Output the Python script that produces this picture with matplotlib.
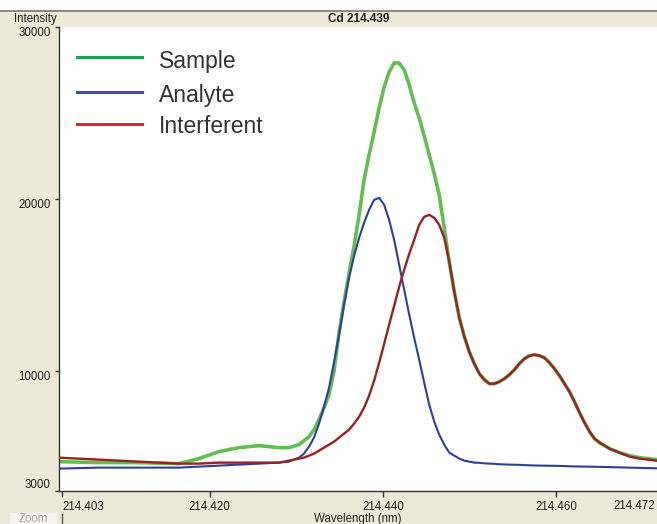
import matplotlib
matplotlib.use("Agg")
import matplotlib.pyplot as plt
from matplotlib.patches import Rectangle
from matplotlib.lines import Line2D

# ---- data ----
wavelength = [214.40254, 214.40717, 214.41179, 214.41642, 214.41873, 214.42104, 214.42335, 214.42567, 214.42798, 214.42913,
              214.43029, 214.43087, 214.43145, 214.43202, 214.43260, 214.43318, 214.43376, 214.43434, 214.43491, 214.43549,
              214.43607, 214.43665, 214.43723, 214.43780, 214.43838, 214.43896, 214.43954, 214.44012, 214.44069, 214.44127,
              214.44185, 214.44243, 214.44301, 214.44358, 214.44416, 214.44474, 214.44532, 214.44590, 214.44647, 214.44705,
              214.44763, 214.44821, 214.44879, 214.44937, 214.44994, 214.45052, 214.45110, 214.45168, 214.45226, 214.45283,
              214.45341, 214.45399, 214.45457, 214.45515, 214.45572, 214.45630, 214.45688, 214.45746, 214.45804, 214.45861,
              214.45919, 214.45977, 214.46035, 214.46093, 214.46150, 214.46208, 214.46266, 214.46324, 214.46382, 214.46439,
              214.46497, 214.46613, 214.46728, 214.46844, 214.46960, 214.47156]

sample = [4709, 4651, 4651, 4593, 4884, 5291, 5523, 5640, 5523, 5523,
          5698, 5930, 6163, 6570, 7151, 7849, 8605, 10000, 12200, 14000,
          15700, 17250, 19070, 21105, 22558, 23895, 25291, 26512, 27384, 27907,
          27907, 27500, 26628, 25582, 24709, 23663, 22558, 21454, 20233, 18314,
          16337, 14593, 13081, 11977, 11105, 10407, 9826, 9477, 9244, 9244,
          9360, 9535, 9767, 10058, 10407, 10698, 10872, 10930, 10872, 10756,
          10465, 10116, 9709, 9244, 8779, 8198, 7558, 6977, 6453, 6047,
          5814, 5465, 5232, 5058, 4942, 4826]

analyte = [4302, 4360, 4360, 4360, 4418, 4477, 4535, 4593, 4651, 4709,
           4942, 5174, 5581, 6105, 6919, 7907, 9012, 10523, 12093, 13837,
           15407, 16686, 17733, 18605, 19361, 19942, 20058, 19651, 18779, 17616,
           16163, 14709, 13256, 11919, 10640, 9302, 8023, 7035, 6279, 5698,
           5232, 5058, 4884, 4767, 4709, 4651, 4640, 4610, 4593, 4580,
           4560, 4545, 4535, 4530, 4520, 4505, 4495, 4485, 4480, 4475,
           4470, 4465, 4460, 4450, 4440, 4430, 4425, 4420, 4415, 4410,
           4405, 4390, 4375, 4360, 4345, 4320]

interferent = [4942, 4826, 4709, 4593, 4593, 4651, 4651, 4651, 4651, 4767,
               4884, 4942, 5058, 5174, 5349, 5523, 5698, 5872, 6105, 6337,
               6570, 6919, 7326, 7849, 8547, 9419, 10465, 11570, 12674, 13779,
               14884, 15872, 16802, 17616, 18488, 18954, 19070, 18895, 18488, 17733,
               16337, 14593, 13081, 11977, 11105, 10407, 9826, 9477, 9244, 9244,
               9360, 9535, 9767, 10058, 10407, 10698, 10872, 10930, 10872, 10756,
               10465, 10116, 9709, 9244, 8779, 8198, 7558, 6977, 6453, 6047,
               5814, 5465, 5232, 5000, 4884, 4767]

x_ticks = [214.403, 214.420, 214.440, 214.460]
x_tick_labels = ["214.403", "214.420", "214.440", "214.460"]
x_last_label = "214.472"
y_ticks = [3000, 10000, 20000, 30000]
y_tick_labels = ["3000", "10000", "20000", "30000"]
legend_labels = ["Sample", "Analyte", "Interferent"]

# ---- figure ----
W, H = 657, 524
BEIGE = "#ECE9D8"
fig = plt.figure(figsize=(W / 100, H / 100), dpi=100, facecolor=BEIGE)
FONT = "Liberation Sans"

fig.patches.append(Rectangle((0, 1 - 10 / H), 1, 10 / H, transform=fig.transFigure,
                             facecolor="white", edgecolor="none", zorder=0))
fig.lines.append(Line2D([0, 1], [1 - 10.5 / H, 1 - 10.5 / H], transform=fig.transFigure,
                        color="#7a7a72", lw=1.2))
fig.patches.append(Rectangle((10 / W, 0), 47 / W, 11 / H, transform=fig.transFigure,
                             facecolor="#F5F4EE", edgecolor="none", zorder=0))
fig.lines.append(Line2D([61.5 / W, 61.5 / W], [0, 10 / H], transform=fig.transFigure,
                        color="#555555", lw=1))
fig.text(33 / W, 5 / H, "Zoom", ha="center", va="center", fontsize=8.3,
         family=FONT, color="#A8A8A8")

ax = fig.add_axes([59 / W, 33 / H, (W - 59) / W, (491 - 27) / H])
ax.set_facecolor("white")
ax.set_xlim(214.4026, 214.4716)
ax.set_ylim(3000, 30000)

ax.plot(wavelength, sample, color="#62BE50", lw=2.6, zorder=2, solid_joinstyle="round")
ax.plot(wavelength, analyte, color="#2E3E9A", lw=1.5, zorder=3, solid_joinstyle="round")
ax.plot(wavelength, interferent, color="#9A2024", lw=1.7, zorder=4, solid_joinstyle="round")

for s in ["top", "right"]:
    ax.spines[s].set_visible(False)
for s in ["left", "bottom"]:
    ax.spines[s].set_color("#333333")
    ax.spines[s].set_linewidth(1.0)

ax.set_xticks(x_ticks)
ax.set_xticklabels(x_tick_labels, fontsize=8.3, family=FONT, color="#222222")
ax.set_yticks(y_ticks)
ax.set_yticklabels(y_tick_labels, fontsize=8.3, family=FONT, color="#222222")
ax.tick_params(axis="x", direction="out", length=4, width=1, color="#333333", pad=3)
ax.tick_params(axis="y", direction="out", length=3, width=1, color="#333333", pad=3)
xl = ax.get_xticklabels()
xl[0].set_ha("left")
yl = ax.get_yticklabels()
for lab, val in zip(yl, y_ticks):
    lab.set_va("bottom" if val == 3000 else "top")

fig.text(655 / W, 1 - 506 / H, x_last_label, ha="right", va="center", fontsize=8.3,
         family=FONT, color="#222222")

fig.text(14 / W, 1 - 19 / H, "Intensity", ha="left", va="center", fontsize=8.3,
         family=FONT, color="#222222")
fig.text(359 / W, 1 - 19 / H, "Cd 214.439", ha="center", va="center", fontsize=8.5,
         family=FONT, color="#222222", fontweight="bold")
fig.text(358 / W, 1 - 519 / H, "Wavelength (nm)", ha="center", va="center", fontsize=8.3,
         family=FONT, color="#222222")

leg_colors = ["#14A84A", "#3B53A4", "#E3202A"]
leg_line_y = [57, 92, 124]
leg_base_y = [68, 102, 133]
for lab, col, yy, yb in zip(legend_labels, leg_colors, leg_line_y, leg_base_y):
    fig.lines.append(Line2D([77 / W, 142 / W], [1 - yy / H, 1 - yy / H],
                            transform=fig.transFigure, color=col, lw=2.2))
    fig.text(159 / W, 1 - yb / H, lab, ha="left", va="baseline", fontsize=16.5,
             family=FONT, color="#333333")

fig.savefig("out.png", dpi=100, facecolor=BEIGE)
